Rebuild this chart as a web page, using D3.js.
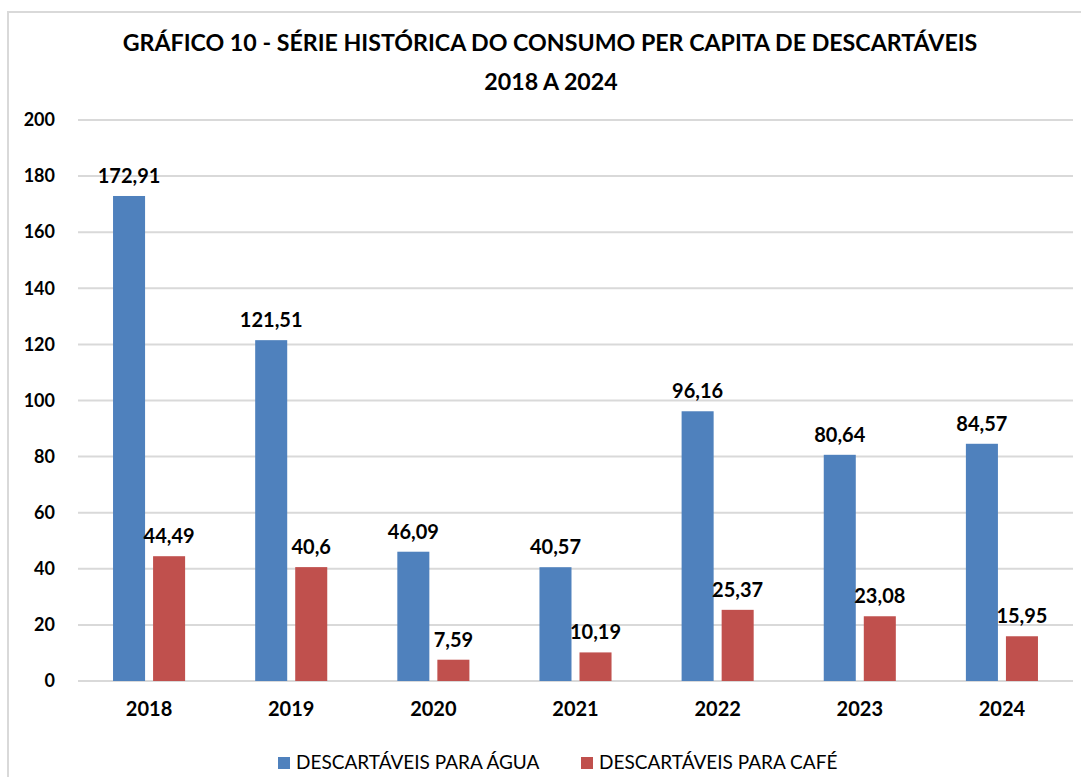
<!DOCTYPE html>
<html>
<head>
<meta charset="utf-8">
<script src="https://cdn.jsdelivr.net/npm/d3@7"></script>
<style>
  body { margin: 0; background: #fff; }
  text { font-family: Lato, "Open Sans", sans-serif; fill: #000; }
</style>
</head>
<body>
<script>
// data
var years = ["2018", "2019", "2020", "2021", "2022", "2023", "2024"]
var agua = [172.91, 121.51, 46.09, 40.57, 96.16, 80.64, 84.57]
var cafe = [44.49, 40.6, 7.59, 10.19, 25.37, 23.08, 15.95]
var seriesNames = ["DESCARTÁVEIS PARA ÁGUA", "DESCARTÁVEIS PARA CAFÉ"]
var colors = ["#4f81bd", "#c0504d"]
var yTicks = [0, 20, 40, 60, 80, 100, 120, 140, 160, 180, 200]

var rows = years.map(function(y, i) { return {year: y, values: [agua[i], cafe[i]]} })

var W = 1081, H = 777
var svg = d3.select("body").append("svg")
  .attr("width", W)
  .attr("height", H)

// chart border
svg.append("rect")
  .attr("x", 8).attr("y", 12)
  .attr("width", 1100).attr("height", 800)
  .attr("fill", "#fff")
  .attr("stroke", "#d9d9d9")
  .attr("stroke-width", 2)

// title
svg.append("text")
  .attr("x", 550).attr("y", 51)
  .attr("text-anchor", "middle")
  .attr("font-size", "23.2px").attr("font-weight", "bold")
  .text("GRÁFICO 10 - SÉRIE HISTÓRICA DO CONSUMO PER CAPITA DE DESCARTÁVEIS")
svg.append("text")
  .attr("x", 551).attr("y", 90)
  .attr("text-anchor", "middle")
  .attr("font-size", "23.2px").attr("font-weight", "bold")
  .text("2018 A 2024")

var x0 = d3.scaleBand().domain(years).range([78, 1073])
var x1 = d3.scaleBand().domain([0, 1]).range([0, x0.bandwidth()])
  .paddingInner(0.2).paddingOuter(0.875)
var y = d3.scaleLinear().domain([0, 200]).range([681, 120])

// gridlines
svg.append("g").selectAll("line")
  .data(yTicks).enter()
  .append("line")
  .attr("x1", 78).attr("x2", 1073)
  .attr("y1", function(d) { return y(d) })
  .attr("y2", function(d) { return y(d) })
  .attr("stroke", "#d9d9d9")
  .attr("stroke-width", 2)

// y axis labels
var yAxis = svg.append("g")
  .attr("transform", "translate(55,0)")
  .call(d3.axisLeft(y).tickValues(yTicks).tickSize(0).tickPadding(0))
yAxis.select(".domain").remove()
yAxis.selectAll("text")
  .attr("font-size", "18px").attr("font-weight", "bold")
  .attr("font-family", "Lato, sans-serif")
  .attr("fill", "#000")

// x axis labels
var xAxis = svg.append("g")
  .attr("transform", "translate(0,681)")
  .call(d3.axisBottom(x0).tickSize(0).tickPadding(21))
xAxis.select(".domain").remove()
xAxis.selectAll("text")
  .attr("font-size", "20px").attr("font-weight", "bold")
  .attr("font-family", "Lato, sans-serif")
  .attr("fill", "#000")

// bars
var groups = svg.append("g").selectAll("g")
  .data(rows).enter()
  .append("g")
  .attr("transform", function(d) { return "translate(" + x0(d.year) + ",0)" })

groups.selectAll("rect")
  .data(function(d) { return d.values.map(function(v, i) { return {i: i, v: v} }) })
  .enter()
  .append("rect")
  .attr("x", function(d) { return x1(d.i) })
  .attr("width", x1.bandwidth())
  .attr("y", function(d) { return y(d.v) })
  .attr("height", function(d) { return y(0) - y(d.v) })
  .attr("fill", function(d) { return colors[d.i] })

groups.selectAll("text")
  .data(function(d) { return d.values.map(function(v, i) { return {i: i, v: v} }) })
  .enter()
  .append("text")
  .attr("x", function(d) { return x1(d.i) + x1.bandwidth() / 2 })
  .attr("y", function(d) { return y(d.v) - 13 })
  .attr("text-anchor", "middle")
  .attr("font-size", "20px").attr("font-weight", "bold")
  .text(function(d) { return String(d.v).replace(".", ",") })

// legend
var legendX = [278, 581]
var legend = svg.append("g").selectAll("g")
  .data(seriesNames).enter()
  .append("g")
  .attr("transform", function(d, i) { return "translate(" + legendX[i] + ",757)" })
legend.append("rect")
  .attr("width", 12).attr("height", 12)
  .attr("fill", function(d, i) { return colors[i] })
legend.append("text")
  .attr("x", 18).attr("y", 12)
  .attr("font-size", "19px")
  .text(function(d) { return d })
</script>
</body>
</html>
